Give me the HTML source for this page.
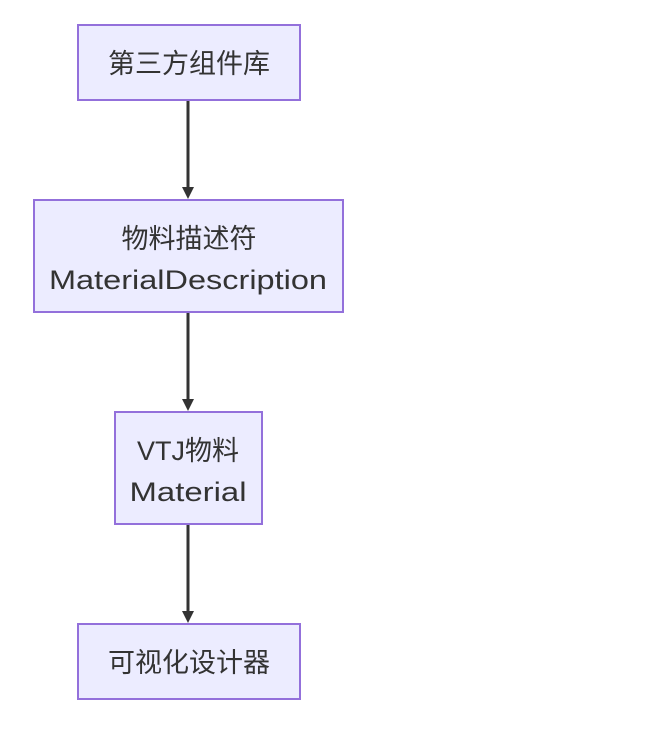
<!DOCTYPE html>
<html><head><meta charset="utf-8"><style>
html,body{margin:0;padding:0;background:#fff;}
text{font-family:"Liberation Sans","Noto Sans CJK SC",sans-serif;font-size:27px;fill:#333;}
</style></head><body>
<svg width="652" height="742" viewBox="0 0 652 742" xmlns="http://www.w3.org/2000/svg">
<defs><marker id="a" markerWidth="12" markerHeight="12" refX="6" refY="12" orient="auto" markerUnits="userSpaceOnUse"><path d="M0,0 L12,0 L6,12 Z" transform="rotate(0)" fill="#333"/></marker></defs>
<g stroke="#333" stroke-width="3">
<line x1="188" y1="101" x2="188" y2="188"/>
<line x1="188" y1="313" x2="188" y2="400"/>
<line x1="188" y1="525" x2="188" y2="612"/>
</g>
<g fill="#333">
<path d="M182,187 L194,187 L188,199 Z"/>
<path d="M182,399 L194,399 L188,411 Z"/>
<path d="M182,611 L194,611 L188,623 Z"/>
</g>
<g fill="#ECECFF" stroke="#9370DB" stroke-width="2">
<rect x="78" y="25" width="222" height="75"/>
<rect x="34" y="200" width="309" height="112"/>
<rect x="115" y="412" width="147" height="112"/>
<rect x="78" y="624" width="222" height="75"/>
</g>
<g text-anchor="middle">
<text x="189" y="73">第三方组件库</text>
<text x="189" y="248">物料描述符</text>
<text x="188" y="289" textLength="278" lengthAdjust="spacingAndGlyphs">MaterialDescription</text>
<text x="188" y="460">VTJ物料</text>
<text x="188" y="501" textLength="117" lengthAdjust="spacingAndGlyphs">Material</text>
<text x="189" y="672">可视化设计器</text>
</g>
</svg>
</body></html>
